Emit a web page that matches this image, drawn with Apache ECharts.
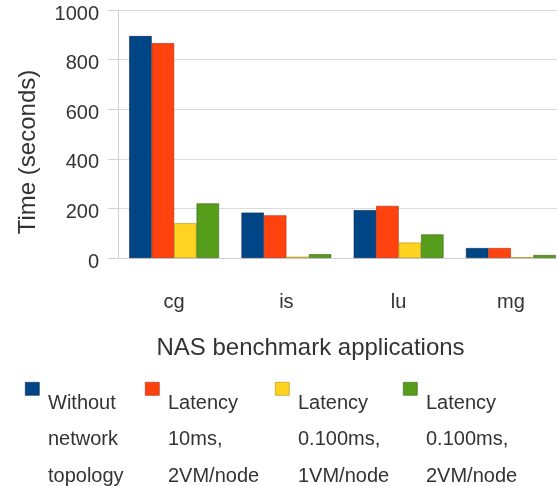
<!DOCTYPE html>
<html><head><meta charset="utf-8">
<script src="https://cdn.jsdelivr.net/npm/echarts@6/dist/echarts.min.js"></script>
<style>html,body{margin:0;padding:0;background:#fff}#c{width:557px;height:486px}</style>
</head><body><div id="c"></div>
<script>
var categories = ['cg', 'is', 'lu', 'mg'];
var seriesNames = ['Without\nnetwork\ntopology', 'Latency\n10ms,\n2VM/node', 'Latency\n0.100ms,\n1VM/node', 'Latency\n0.100ms,\n2VM/node'];
var withoutTopology = [895, 183, 193, 40];
var lat10ms2vm = [866, 172, 210, 40];
var lat100us1vm = [140, 5, 62, 3];
var lat100us2vm = [220, 15, 95, 12];
var yTicks = [0, 200, 400, 600, 800, 1000];

var colors = ['#004586', '#ff420e', '#ffd320', '#579d1c'];
var borders = ['#00264a', '#a8290a', '#a88b10', '#37640f'];
var values = [withoutTopology, lat10ms2vm, lat100us1vm, lat100us2vm];
var font = 'Liberation Sans';

var chart = echarts.init(document.getElementById('c'), null, {renderer: 'canvas'});
var series = values.map(function (v, i) {
  return {
    name: seriesNames[i], type: 'bar', data: v,
    barGap: '0%', barCategoryGap: '20%',
    itemStyle: {color: colors[i], borderColor: borders[i], borderWidth: 0.6},
    emphasis: {disabled: true}, animation: false
  };
});
var legendX = [25, 145, 275, 403];
var graphic = [];
seriesNames.forEach(function (n, i) {
  graphic.push({type: 'rect', left: legendX[i], top: 382, shape: {width: 14, height: 13},
    style: {fill: colors[i], stroke: borders[i], lineWidth: 0.6}});
  graphic.push({type: 'text', left: legendX[i] + 23, top: 385,
    style: {text: n, font: '20px "' + font + '"', fill: '#333', lineHeight: 36.5}});
});
chart.setOption({
  animation: false,
  grid: {left: 118, top: 10, height: 248, width: 449, containLabel: false, outerBoundsMode: 'none'},
  xAxis: {
    type: 'category', data: categories,
    name: 'NAS benchmark applications', nameLocation: 'middle', nameGap: 78,
    nameTextStyle: {fontFamily: font, fontSize: 24, color: '#333', padding: [0, 64, 0, 0]},
    axisLine: {lineStyle: {color: '#d0d0d0'}},
    axisTick: {alignWithLabel: true, length: 10, lineStyle: {color: '#d0d0d0'}},
    axisLabel: {fontFamily: font, fontSize: 20, color: '#333', margin: 34}
  },
  yAxis: {
    type: 'value', min: 0, max: 1000, interval: 200,
    name: 'Time (seconds)', nameLocation: 'middle', nameGap: 78,
    nameTextStyle: {fontFamily: font, fontSize: 24, color: '#333', padding: [0, 36, 0, 0]},
    axisLine: {show: true, lineStyle: {color: '#d0d0d0'}},
    axisTick: {show: true, length: 10, lineStyle: {color: '#d0d0d0'}},
    axisLabel: {fontFamily: font, fontSize: 20, color: '#333', margin: 19,
      formatter: function (v) { return yTicks.indexOf(v) >= 0 ? '{a|' + v + '}' : ''; },
      rich: {a: {fontFamily: font, fontSize: 20, color: '#333', padding: [8, 0, 0, 0]}}},
    splitLine: {lineStyle: {color: '#dcdcdc'}}
  },
  series: series,
  graphic: graphic
});
</script></body></html>
